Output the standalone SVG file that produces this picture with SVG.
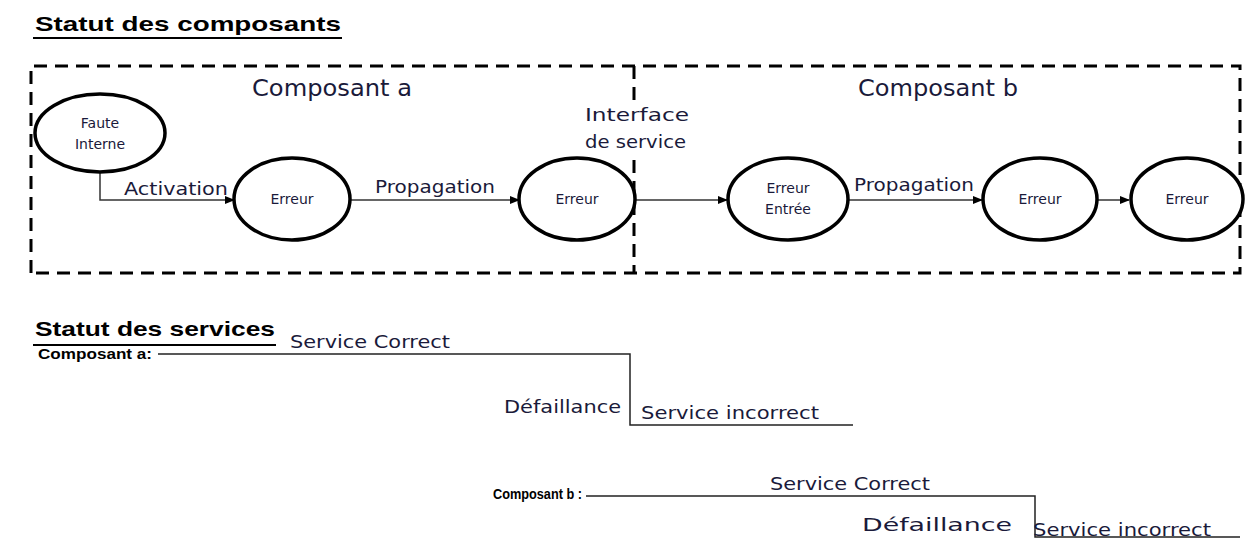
<svg xmlns="http://www.w3.org/2000/svg" width="1246" height="540" viewBox="0 0 1246 540">
<style>
.title{font-family:"Liberation Sans",Arial,sans-serif;font-weight:bold;font-size:21px;fill:#000}
.lbl{font-family:"DejaVu Sans","Liberation Sans",sans-serif;font-size:17px;fill:#1a1a3a}
.big{font-family:"DejaVu Sans","Liberation Sans",sans-serif;font-size:23px;fill:#1a1a3a}
.small{font-family:"DejaVu Sans","Liberation Sans",sans-serif;font-size:14px;fill:#1a1a3a}
.comp{font-family:"Liberation Sans",Arial,sans-serif;font-weight:bold;font-size:15px;fill:#000}
.node{fill:#fff;stroke:#000;stroke-width:3.5}
.dash{fill:none;stroke:#000;stroke-width:3;stroke-dasharray:13 8}
.edge{fill:none;stroke:#333;stroke-width:1.5}
.ul{stroke:#000;stroke-width:2}
.svc{fill:none;stroke:#222;stroke-width:1.5}
</style>
<defs>
<marker id="arr" markerWidth="10" markerHeight="10" refX="9" refY="5" orient="auto" markerUnits="userSpaceOnUse">
<path d="M0,1 L10,5 L0,9 Z" fill="#000"/>
</marker>
</defs>
<g id="titles">
<text class="title" x="35" y="31" textLength="306" lengthAdjust="spacingAndGlyphs">Statut des composants</text>
<line class="ul" x1="33" y1="38" x2="342" y2="38"/>
<text class="title" x="35" y="336" textLength="240" lengthAdjust="spacingAndGlyphs">Statut des services</text>
<line class="ul" x1="33" y1="345" x2="276" y2="345"/>
</g>
<g id="boxes">
<path class="dash" d="M31,273 L31,66 L1240,66 L1240,273 Z"/>
<line class="dash" x1="634" y1="66" x2="634" y2="100"/>
<line class="dash" x1="634" y1="160" x2="634" y2="273"/>
<text class="big" x="252" y="96" textLength="160" lengthAdjust="spacingAndGlyphs">Composant a</text>
<text class="big" x="858" y="96" textLength="160" lengthAdjust="spacingAndGlyphs">Composant b</text>
<text class="lbl" x="585" y="121" textLength="104" lengthAdjust="spacingAndGlyphs">Interface</text>
<text class="lbl" x="585" y="148" textLength="101" lengthAdjust="spacingAndGlyphs">de service</text>
</g>
<g id="connectors">
<path class="edge" d="M100,172 L100,200 L234,200" marker-end="url(#arr)"/>
<text class="lbl" x="124" y="195" textLength="104" lengthAdjust="spacingAndGlyphs">Activation</text>
<line class="edge" x1="350" y1="200" x2="519" y2="200" marker-end="url(#arr)"/>
<text class="lbl" x="375" y="193" textLength="120" lengthAdjust="spacingAndGlyphs">Propagation</text>
<line class="edge" x1="635" y1="200" x2="727" y2="200" marker-end="url(#arr)"/>
<line class="edge" x1="848" y1="200" x2="982" y2="200" marker-end="url(#arr)"/>
<text class="lbl" x="854" y="191" textLength="120" lengthAdjust="spacingAndGlyphs">Propagation</text>
<line class="edge" x1="1097" y1="200" x2="1129" y2="200" marker-end="url(#arr)"/>
</g>
<g id="faute-interne">
<ellipse class="node" cx="100" cy="133" rx="65" ry="39"/>
<text class="small" x="100" y="128" text-anchor="middle">Faute</text>
<text class="small" x="100" y="149" text-anchor="middle">Interne</text>
</g>
<g id="erreur-a1">
<ellipse class="node" cx="292" cy="199" rx="58" ry="41"/>
<text class="small" x="292" y="204" text-anchor="middle">Erreur</text>
</g>
<g id="erreur-a2">
<ellipse class="node" cx="577" cy="199" rx="58" ry="41"/>
<text class="small" x="577" y="204" text-anchor="middle">Erreur</text>
</g>
<g id="erreur-entree">
<ellipse class="node" cx="788" cy="199" rx="60" ry="41"/>
<text class="small" x="788" y="193" text-anchor="middle">Erreur</text>
<text class="small" x="788" y="214" text-anchor="middle">Entrée</text>
</g>
<g id="erreur-b1">
<ellipse class="node" cx="1040" cy="199" rx="57" ry="41"/>
<text class="small" x="1040" y="204" text-anchor="middle">Erreur</text>
</g>
<g id="erreur-b2">
<ellipse class="node" cx="1187" cy="199" rx="56" ry="41"/>
<text class="small" x="1187" y="204" text-anchor="middle">Erreur</text>
</g>
<g id="service-a">
<text class="comp" x="38" y="359" textLength="114" lengthAdjust="spacingAndGlyphs">Composant a:</text>
<path class="svc" d="M158,354 L630,354 L630,425 L853,425"/>
<text class="lbl" x="290" y="348" textLength="160" lengthAdjust="spacingAndGlyphs">Service Correct</text>
<text class="lbl" x="504" y="413" textLength="117" lengthAdjust="spacingAndGlyphs">Défaillance</text>
<text class="lbl" x="641" y="419" textLength="178" lengthAdjust="spacingAndGlyphs">Service incorrect</text>
</g>
<g id="service-b">
<text class="comp" x="493" y="499" textLength="89" lengthAdjust="spacingAndGlyphs">Composant b :</text>
<path class="svc" d="M586,496 L1035,496 L1035,537 L1240,537"/>
<text class="lbl" x="770" y="490" textLength="160" lengthAdjust="spacingAndGlyphs">Service Correct</text>
<text class="lbl" x="862" y="531" textLength="150" lengthAdjust="spacingAndGlyphs">Défaillance</text>
<text class="lbl" x="1033" y="536" textLength="178" lengthAdjust="spacingAndGlyphs">Service incorrect</text>
</g>
</svg>
